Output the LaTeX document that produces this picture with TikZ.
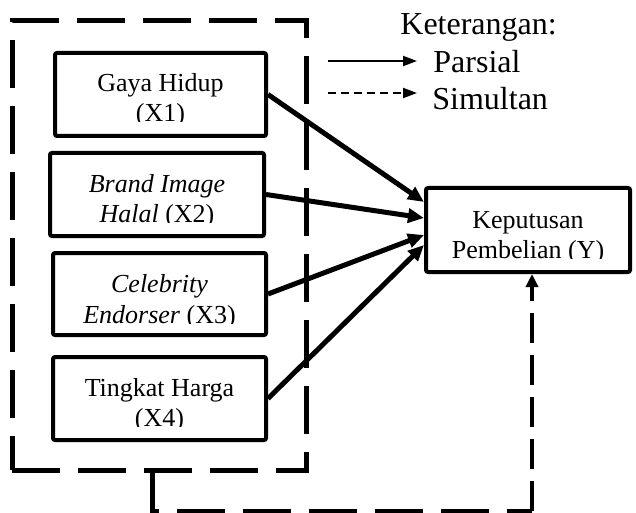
\documentclass[tikz,border=0pt]{standalone}
\usepackage{fontspec}
\setmainfont{Liberation Serif}
\usetikzlibrary{arrows.meta,calc}
\begin{document}
\begin{tikzpicture}[x=0.5pt,y=-0.5pt,
  vbox/.style={draw,line width=2pt,rounded corners=1pt,inner sep=0pt},
  ln/.style={anchor=base,inner sep=0pt,font=\fontsize{13}{15}\selectfont},
  lg/.style={anchor=base west,inner sep=0pt,font=\fontsize{16}{19}\selectfont},
  part/.style={line width=2.5pt,-{Triangle[length=8pt,width=7pt]}},
  bigdash/.style={line width=2.5pt,dash pattern=on 24pt off 9pt},
  simdash/.style={line width=2pt,dash pattern=on 15pt off 6pt}]
\useasboundingbox (0,0) rectangle (636,513);
% outer dashed frame
\node[draw,bigdash,minimum width=147pt,minimum height=224.5pt,inner sep=0pt] (outer) at (159,245.5) {};
% variable boxes
\node[vbox,minimum width=105.5pt,minimum height=41.5pt] (x1) at (160.5,94.5) {};
\node[vbox,minimum width=107pt,minimum height=41.5pt] (x2) at (157,194.5) {};
\node[vbox,minimum width=106.5pt,minimum height=41pt] (x3) at (159.5,294) {};
\node[vbox,minimum width=106.5pt,minimum height=41.5pt] (x4) at (159.5,398.5) {};
\node[vbox,minimum width=102pt,minimum height=42pt] (y) at (528,230) {};
% texts (clipped like the original text boxes)
\begin{scope}
\clip (55,53) rectangle (266,122);
\node[ln] (t1a) at (160.5,92) {Gaya Hidup};
\node[ln] (t1b) at (160.5,122) {(X1)};
\end{scope}
\begin{scope}
\clip (50,153) rectangle (264,222);
\node[ln] (t2a) at (157,192) {\itshape Brand Image};
\node[ln] (t2b) at (157,222) {\itshape Halal\upshape{} (X2)};
\end{scope}
\begin{scope}
\clip (53,253) rectangle (266,323);
\node[ln] (t3a) at (159.5,292) {\itshape Celebrity};
\node[ln] (t3b) at (159.5,323) {\itshape Endorser\upshape{} (X3)};
\end{scope}
\begin{scope}
\clip (53,357) rectangle (266,426);
\node[ln] (t4a) at (159.5,396) {Tingkat Harga};
\node[ln] (t4b) at (159.5,426) {(X4)};
\end{scope}
\begin{scope}
\clip (426,188) rectangle (630,258);
\node[ln] (tya) at (528,228) {Keputusan};
\node[ln] (tyb) at (528,258) {Pembelian (Y)};
\end{scope}
% partial arrows
\draw[part] (x1.east) -- ($(y.west)+(0,-28)$);
\draw[part] (x2.east) -- ($(y.west)+(0,-12)$);
\draw[part] (x3.east) -- ($(y.west)+(0,5)$);
\draw[part] (x4.east) -- ($(y.west)+(0,15)$);
% simultaneous connector
\coordinate (s0) at (152,470);
\coordinate (s1) at (152,511);
\coordinate (s2) at (532,511);
\draw[bigdash] (s0) -- (s1) -- (s2);
\draw[simdash,-{Triangle[length=6.5pt,width=6pt]}] (s2) -- (s2 |- y.south);
% legend
\node[lg] (ket) at (400,35) {Keterangan:};
\node[lg] (par) at (433,73) {Parsial};
\node[lg] (sim) at (432,110) {Simultan};
\coordinate (la) at (328,61);
\coordinate (lb) at (328,93);
\draw[line width=1pt,-{Triangle[length=7pt,width=5pt]}] (la) -- ($(par.base west)+(-16,-12)$);
\draw[line width=1pt,dash pattern=on 4pt off 2.5pt,-{Triangle[length=7pt,width=5pt]}] (lb) -- ($(sim.base west)+(-15,-17)$);
\end{tikzpicture}
\end{document}
